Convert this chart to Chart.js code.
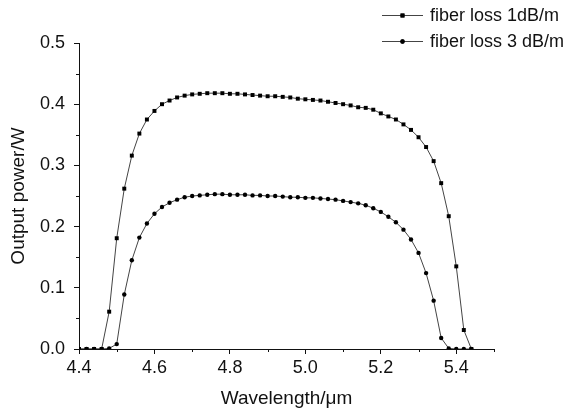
<!DOCTYPE html>
<html>
<head>
<meta charset="utf-8">
<script src="https://cdn.jsdelivr.net/npm/chart.js@4.4.1/dist/chart.umd.min.js"></script>
<style>
  html, body { margin: 0; padding: 0; background: #fff; }
  #wrap { width: 576px; height: 412px; }
</style>
</head>
<body>
<div id="wrap"><canvas id="chart" width="576" height="412"></canvas></div>
<script>
// wavelength in um, sampled every 0.02
const wavelength = [
  4.40, 4.42, 4.44, 4.46, 4.48, 4.50, 4.52, 4.54, 4.56, 4.58,
  4.60, 4.62, 4.64, 4.66, 4.68, 4.70, 4.72, 4.74, 4.76, 4.78,
  4.80, 4.82, 4.84, 4.86, 4.88, 4.90, 4.92, 4.94, 4.96, 4.98,
  5.00, 5.02, 5.04, 5.06, 5.08, 5.10, 5.12, 5.14, 5.16, 5.18,
  5.20, 5.22, 5.24, 5.26, 5.28, 5.30, 5.32, 5.34, 5.36, 5.38,
  5.40, 5.42, 5.44
];
// output power in W
const loss1dB = [
  0, 0, 0, 0, 0.061, 0.181, 0.262, 0.316, 0.352, 0.375,
  0.389, 0.400, 0.406, 0.411, 0.414, 0.416, 0.417, 0.418, 0.418, 0.418,
  0.417, 0.417, 0.416, 0.415, 0.414, 0.413, 0.413, 0.412, 0.411, 0.409,
  0.408, 0.407, 0.406, 0.404, 0.402, 0.400, 0.398, 0.395, 0.394, 0.391,
  0.385, 0.380, 0.375, 0.367, 0.358, 0.346, 0.330, 0.307, 0.271, 0.217,
  0.135, 0.031, 0
];
const loss3dB = [
  0, 0, 0, 0, 0.001, 0.008, 0.089, 0.145, 0.182, 0.205,
  0.221, 0.232, 0.239, 0.244, 0.248, 0.250, 0.251, 0.252, 0.253, 0.253,
  0.252, 0.252, 0.252, 0.251, 0.251, 0.250, 0.250, 0.249, 0.248, 0.248,
  0.247, 0.247, 0.246, 0.245, 0.244, 0.242, 0.240, 0.238, 0.235, 0.230,
  0.224, 0.216, 0.207, 0.195, 0.179, 0.157, 0.124, 0.079, 0.018, 0.001,
  0, 0, 0
];
const seriesLabels = ["fiber loss 1dB/m", "fiber loss 3 dB/m"];

const xMajorTicks = [4.4, 4.6, 4.8, 5.0, 5.2, 5.4];
const xMinorTicks = [4.5, 4.7, 4.9, 5.1, 5.3, 5.5];
const yMajorTicks = [0, 0.1, 0.2, 0.3, 0.4, 0.5];
const yMinorTicks = [0.05, 0.15, 0.25, 0.35, 0.45];

const INK = "#111";
const LINE = "#444";
const FONT = "'Liberation Sans', Arial, sans-serif";

const toPoints = (ys) => wavelength.map((x, i) => ({ x: x, y: ys[i] }));

// short outward ticks between the labelled ones
const minorTicks = {
  id: "minorTicks",
  afterDraw(chart) {
    const { ctx, scales: { x, y } } = chart;
    ctx.save();
    ctx.strokeStyle = INK;
    ctx.lineWidth = 1;
    ctx.beginPath();
    xMinorTicks.forEach((v) => {
      const px = Math.round(x.getPixelForValue(v)) + 0.5;
      ctx.moveTo(px, y.bottom);
      ctx.lineTo(px, y.bottom + 3);
    });
    yMinorTicks.forEach((v) => {
      const py = Math.round(y.getPixelForValue(v)) + 0.5;
      ctx.moveTo(x.left, py);
      ctx.lineTo(x.left - 3, py);
    });
    ctx.stroke();
    ctx.restore();
  }
};

// legend in the top-right corner, Origin style
const cornerLegend = {
  id: "cornerLegend",
  afterDraw(chart) {
    const { ctx } = chart;
    const rows = [15, 41];
    ctx.save();
    chart.data.datasets.forEach((ds, i) => {
      const yy = rows[i] + 0.5;
      ctx.strokeStyle = LINE;
      ctx.lineWidth = 1;
      ctx.beginPath();
      ctx.moveTo(382, yy);
      ctx.lineTo(423, yy);
      ctx.stroke();
      Chart.helpers.drawPoint(ctx, {
        pointStyle: ds.pointStyle,
        radius: ds.pointRadius,
        borderWidth: 0
      }, 402.5, yy);
      ctx.fillStyle = "#000";
      ctx.fill();
      ctx.fillStyle = INK;
      ctx.font = "18px " + FONT;
      ctx.textBaseline = "middle";
      ctx.fillText(ds.label, 430, yy + 1);
    });
    ctx.restore();
  }
};

new Chart(document.getElementById("chart"), {
  type: "scatter",
  data: {
    datasets: [
      {
        label: seriesLabels[0],
        data: toPoints(loss1dB),
        showLine: true,
        borderColor: LINE,
        borderWidth: 1,
        tension: 0,
        pointStyle: "rect",
        pointRadius: 2.8,
        pointBackgroundColor: "#000",
        pointBorderWidth: 0
      },
      {
        label: seriesLabels[1],
        data: toPoints(loss3dB),
        showLine: true,
        borderColor: LINE,
        borderWidth: 1,
        tension: 0,
        pointStyle: "circle",
        pointRadius: 2.2,
        pointBackgroundColor: "#000",
        pointBorderWidth: 0
      }
    ]
  },
  options: {
    responsive: false,
    animation: false,
    devicePixelRatio: 1,
    layout: { padding: { top: 43, right: 82, left: 0, bottom: 0 } },
    plugins: {
      legend: { display: false },
      tooltip: { enabled: false }
    },
    scales: {
      x: {
        type: "linear",
        min: 4.4,
        max: 5.5,
        afterBuildTicks: (scale) => {
          scale.ticks = xMajorTicks.map((v) => ({ value: v }));
        },
        afterFit: (scale) => { scale.height = 63; },
        border: { display: true, color: INK, width: 1 },
        grid: { drawOnChartArea: false, tickLength: 5, tickColor: INK },
        ticks: {
          color: INK,
          padding: 3,
          font: { family: FONT, size: 18 },
          callback: (v) => Number(v).toFixed(1)
        },
        title: {
          display: true,
          text: "Wavelength/\u03bcm",
          color: INK,
          font: { family: FONT, size: 19 },
          padding: { top: 0, bottom: 2 }
        }
      },
      y: {
        type: "linear",
        min: 0,
        max: 0.5,
        afterBuildTicks: (scale) => {
          scale.ticks = yMajorTicks.map((v) => ({ value: v }));
        },
        afterFit: (scale) => { scale.width = 79; },
        border: { display: true, color: INK, width: 1 },
        grid: { drawOnChartArea: false, tickLength: 5, tickColor: INK },
        ticks: {
          color: INK,
          padding: 9,
          font: { family: FONT, size: 18 },
          callback: (v) => Number(v).toFixed(1)
        },
        title: {
          display: true,
          text: "Output power/W",
          color: INK,
          font: { family: FONT, size: 19 },
          padding: { top: 7, bottom: 0 }
        }
      }
    }
  },
  plugins: [minorTicks, cornerLegend]
});
</script>
</body>
</html>
